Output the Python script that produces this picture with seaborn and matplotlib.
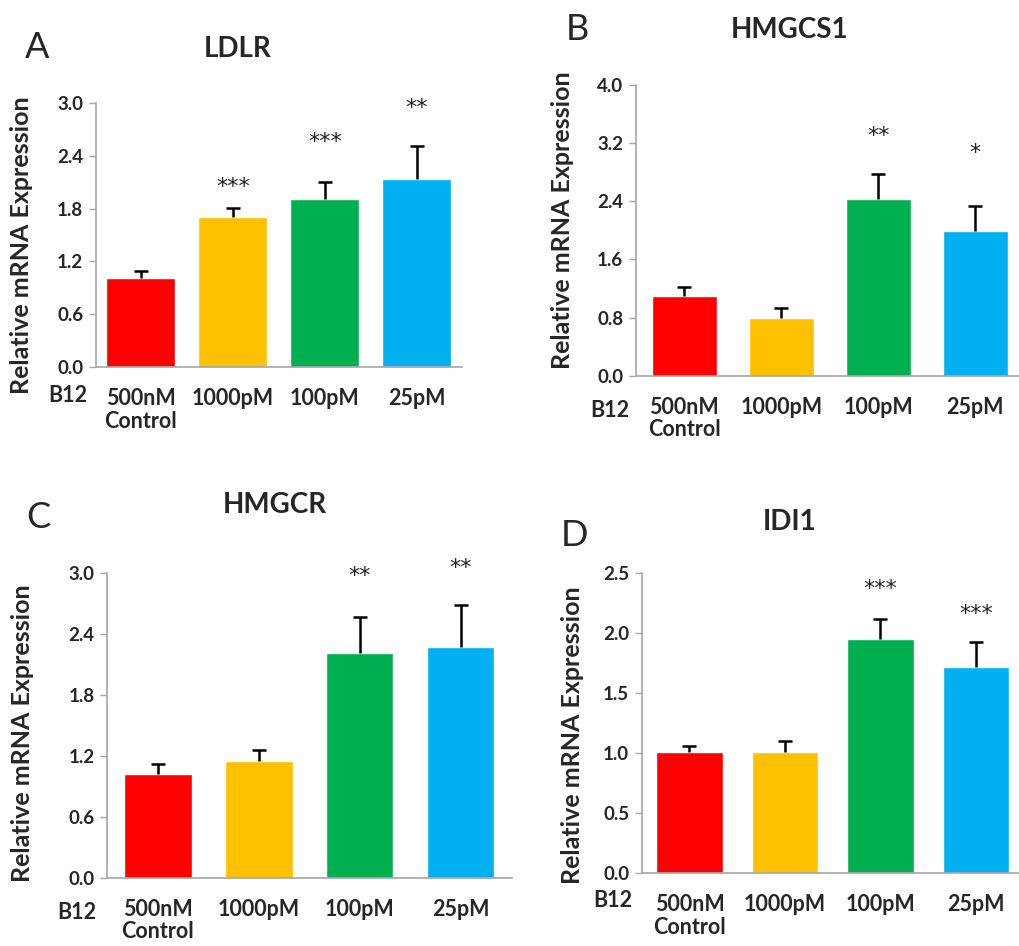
import numpy as np
import pandas as pd
import matplotlib
matplotlib.use("Agg")
import matplotlib.pyplot as plt
import seaborn as sns

# data
doses = ["500nM\nControl", "1000pM", "100pM", "25pM"]
bar_colors = ["#FF0000", "#FFC000", "#00B050", "#00B0F0"]

ldlr_mean = [1.01, 1.70, 1.91, 2.14]
ldlr_err = [0.08, 0.11, 0.19, 0.37]
ldlr_sig = ["", "***", "***", "**"]
ldlr_sig_y = [0, 2.05, 2.56, 2.94]

hmgcs1_mean = [1.10, 0.80, 2.43, 1.99]
hmgcs1_err = [0.12, 0.135, 0.35, 0.35]
hmgcs1_sig = ["", "", "**", "*"]
hmgcs1_sig_y = [0, 0, 3.30, 3.06]

hmgcr_mean = [1.025, 1.15, 2.21, 2.27]
hmgcr_err = [0.095, 0.11, 0.36, 0.42]
hmgcr_sig = ["", "", "**", "**"]
hmgcr_sig_y = [0, 0, 2.97, 3.05]

idi1_mean = [1.01, 1.01, 1.95, 1.72]
idi1_err = [0.052, 0.095, 0.17, 0.205]
idi1_sig = ["", "", "***", "***"]
idi1_sig_y = [0, 0, 2.37, 2.16]

sns.set_style("white")
plt.rcParams['font.family'] = ['Lato', 'DejaVu Sans']

W, H = 1019, 946
fig = plt.figure(figsize=(W / 100, H / 100), dpi=100)


def px(x, y):
    # pixel position (from top left) -> figure fraction
    return x / W, 1 - y / H


def panel(box, xlim, bw, ymax, ystep, mean, err, sig, sig_y,
          gene, letter, letter_xy, title_xy, ylab_xy, b12_xy):
    x0, x1, ytop, ybot = box
    ax = fig.add_axes([x0 / W, 1 - ybot / H, (x1 - x0) / W, (ybot - ytop) / H])
    df = pd.DataFrame({"dose": doses, "value": mean})
    sns.barplot(data=df, x="dose", y="value", hue="dose", palette=bar_colors,
                saturation=1, width=bw, legend=False, ax=ax)
    xs = np.arange(len(mean))
    mean = np.array(mean)
    err = np.array(err)
    # upper error bars only, cap on top
    ax.errorbar(xs, mean, yerr=[np.zeros(len(err)), err], fmt="none",
                ecolor="black", elinewidth=1.8, capsize=0)
    ax.plot(xs, mean + err, ls="none", marker="_", ms=10, mew=1.8, color="black")
    for i in range(len(sig)):
        if sig[i]:
            ax.text(xs[i], sig_y[i], sig[i], ha="center", va="center",
                    fontsize=16, family=["DejaVu Sans"], color="#222222")
    ax.set_xlim(*xlim)
    ax.set_ylim(0, ymax)
    ticks = np.round(np.arange(0, ymax + 1e-9, ystep), 2)
    ax.set_yticks(ticks)
    ax.set_yticklabels(["%.1f" % t for t in ticks], fontsize=13.5, fontweight="bold")
    ax.set_xticks(xs)
    ax.set_xticklabels(doses, fontsize=15.5, fontweight="bold", linespacing=1.1)
    ax.tick_params(axis="x", length=0, pad=15)
    ax.tick_params(axis="y", length=5, width=1, color="#A6A6A6", pad=4, left=True)
    ax.set_xlabel("")
    ax.set_ylabel("")
    for s in ["top", "right"]:
        ax.spines[s].set_visible(False)
    for s in ["left", "bottom"]:
        ax.spines[s].set_color("#A6A6A6")
        ax.spines[s].set_linewidth(1.2)
    fig.text(*px(*letter_xy), letter, fontsize=26, ha="center", va="center")
    fig.text(*px(*title_xy), gene, fontsize=20, fontweight="bold", ha="center", va="center")
    fig.text(*px(*ylab_xy), "Relative mRNA Expression", fontsize=18, fontweight="bold",
             rotation=90, ha="center", va="center")
    fig.text(*px(*b12_xy), "B12", fontsize=15.5, fontweight="bold", ha="center", va="center")
    return ax


panel((95.7, 462, 103, 367), (-0.49, 3.49), 0.75, 3.0, 0.6,
      ldlr_mean, ldlr_err, ldlr_sig, ldlr_sig_y,
      "LDLR", "A", (37, 48), (238, 49), (22, 245), (68, 395))
panel((635.7, 1019, 85, 375.7), (-0.50, 3.45), 0.67, 4.0, 0.8,
      hmgcs1_mean, hmgcs1_err, hmgcs1_sig, hmgcs1_sig_y,
      "HMGCS1", "B", (577, 30), (790, 30), (562, 220), (610, 410))
panel((107, 512, 573.3, 877.7), (-0.505, 3.51), 0.67, 3.0, 0.6,
      hmgcr_mean, hmgcr_err, hmgcr_sig, hmgcr_sig_y,
      "HMGCR", "C", (38, 517), (275, 505), (23, 733), (77, 912))
panel((641.7, 1019, 573.3, 873.3), (-0.50, 3.45), 0.70, 2.5, 0.5,
      idi1_mean, idi1_err, idi1_sig, idi1_sig_y,
      "IDI1", "D", (575, 535), (790, 522), (572, 735), (613, 900))

fig.savefig("out.png", dpi=100)
